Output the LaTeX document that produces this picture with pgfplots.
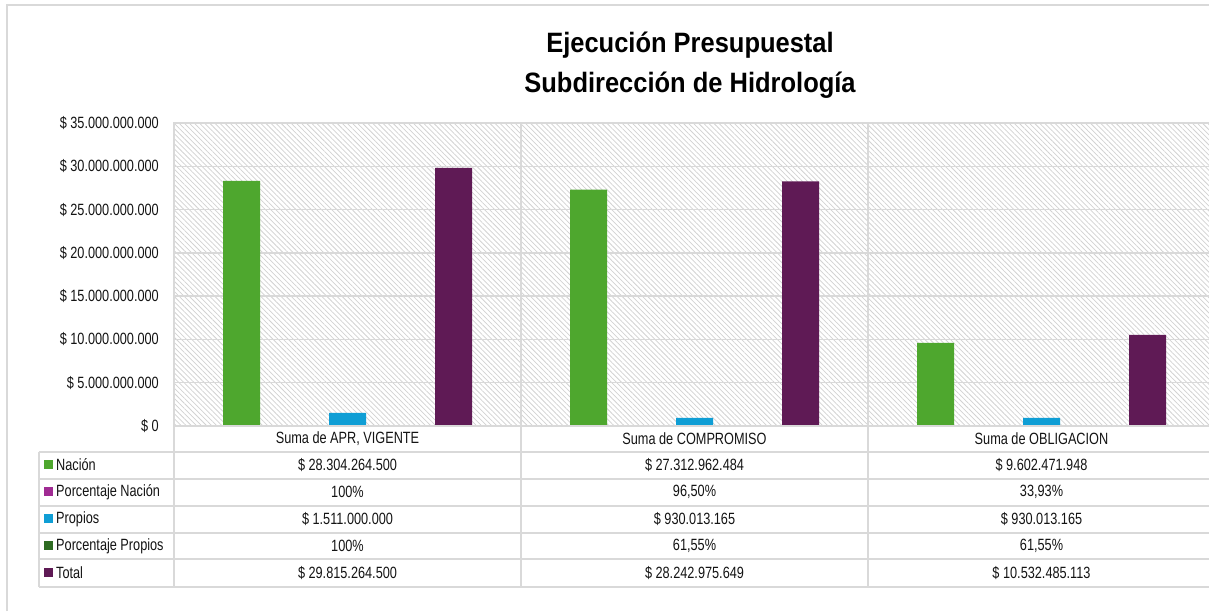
\documentclass[border=0pt]{standalone}
\usepackage{pgfplots}
\pgfplotsset{compat=1.18}
\usetikzlibrary{patterns.meta}
\usepackage{fontspec}
\setmainfont{Liberation Sans}[FakeStretch=0.78]
\newfontfamily\titlefont{Liberation Sans}[FakeStretch=0.91]
\definecolor{gridgray}{RGB}{217,217,217}
\definecolor{hatchgray}{RGB}{210,210,210}
\definecolor{cNacion}{RGB}{78,167,46}
\definecolor{cPNacion}{RGB}{160,43,147}
\definecolor{cPropios}{RGB}{15,158,213}
\definecolor{cPPropios}{RGB}{46,107,34}
\definecolor{cTotal}{RGB}{95,26,85}
\definecolor{txt}{RGB}{20,20,20}
\newcommand\tf{\fontsize{16.3}{19}\selectfont}
\begin{document}
\begin{tikzpicture}
\useasboundingbox (0pt,0pt) rectangle (1209pt,611pt);
\fill[white] (0pt,0pt) rectangle (1209pt,611pt);
\clip (0pt,0pt) rectangle (1209pt,611pt);
% outer chart border
\draw[gridgray, line width=1.3pt] (7pt,0pt) -- (7pt,606pt) -- (1215pt,606pt);
% title
\node[anchor=base, font=\titlefont\bfseries\fontsize{28}{32}\selectfont, text=black] at (690pt,558pt) {Ejecución Presupuestal};
\node[anchor=base, font=\titlefont\bfseries\fontsize{28}{32}\selectfont, text=black] at (690pt,518pt) {Subdirección de Hidrología};
\begin{axis}[
  at={(174pt,185pt)}, anchor=south west,
  width=1041pt, height=303pt, scale only axis,
  ybar, bar width=37pt,
  xmin=-0.5, xmax=2.5, ymin=0, ymax=35e9,
  axis background/.style={pattern={Lines[angle=-45,distance=3.6pt,line width=0.75pt]}, pattern color=hatchgray},
  axis line style={draw=gridgray, line width=1.3pt},
  xtick={0,1,2},
  xticklabels={{Suma de APR, VIGENTE},{Suma de COMPROMISO},{Suma de OBLIGACION}},
  xticklabel style={anchor=center, inner sep=0pt, yshift=-13pt, text=txt, font=\tf},
  minor xtick={0.5,1.5}, xminorgrids=true,
  minor grid style={draw=gridgray, line width=1.3pt},
  ytick={0,5e9,1e10,1.5e10,2e10,2.5e10,3e10,3.5e10},
  yticklabels={{\$ 0},{\$ 5.000.000.000},{\$ 10.000.000.000},{\$ 15.000.000.000},{\$ 20.000.000.000},{\$ 25.000.000.000},{\$ 30.000.000.000},{\$ 35.000.000.000}},
  scaled y ticks=false,
  yticklabel style={anchor=east, inner sep=0pt, xshift=-15pt, text=txt, font=\tf},
  ymajorgrids=true,
  major grid style={draw=gridgray, line width=1.3pt},
  major tick length=0pt, minor tick length=0pt,
]
\addplot[fill=cNacion, draw=none, bar shift=-106pt] coordinates {(0,28304264500) (1,27312962484) (2,9602471948)};
\addplot[fill=cPNacion, draw=none, bar shift=-53pt] coordinates {(0,1) (1,0.965) (2,0.3393)};
\addplot[fill=cPropios, draw=none, bar shift=0pt] coordinates {(0,1511000000) (1,930013165) (2,930013165)};
\addplot[fill=cPPropios, draw=none, bar shift=53pt] coordinates {(0,1) (1,0.6155) (2,0.6155)};
\addplot[fill=cTotal, draw=none, bar shift=106pt] coordinates {(0,29815264500) (1,28242975649) (2,10532485113)};
\end{axis}
% data table lines
\begin{scope}[gridgray, line width=1.3pt]
\draw (174pt,185pt) -- (1215pt,185pt);
\foreach \y in {159,132,105,78,52,24} \draw (39pt,\y pt) -- (1215pt,\y pt);
\draw (39pt,159pt) -- (39pt,24pt);
\draw (174pt,185pt) -- (174pt,24pt);
\draw (521pt,185pt) -- (521pt,24pt);
\draw (868pt,185pt) -- (868pt,24pt);
\end{scope}
% legend column
\begin{scope}[every node/.style={anchor=west, inner sep=0pt, text=txt, font=\tf}]
\fill[cNacion] (44pt,142pt) rectangle (53pt,151pt);
\node at (56pt,146pt) {Nación};
\fill[cPNacion] (44pt,115pt) rectangle (53pt,124pt);
\node at (56pt,119pt) {Porcentaje Nación};
\fill[cPropios] (44pt,88pt) rectangle (53pt,97pt);
\node at (56pt,92pt) {Propios};
\fill[cPPropios] (44pt,61pt) rectangle (53pt,70pt);
\node at (56pt,65pt) {Porcentaje Propios};
\fill[cTotal] (44pt,34pt) rectangle (53pt,43pt);
\node at (56pt,38pt) {Total};
\end{scope}
% values
\begin{scope}[every node/.style={anchor=center, inner sep=0pt, text=txt, font=\tf}]
\node at (347.5pt,146pt) {\$ 28.304.264.500};
\node at (694.5pt,146pt) {\$ 27.312.962.484};
\node at (1041.5pt,146pt) {\$ 9.602.471.948};
\node at (347.5pt,119pt) {100\%};
\node at (694.5pt,119pt) {96,50\%};
\node at (1041.5pt,119pt) {33,93\%};
\node at (347.5pt,92pt) {\$ 1.511.000.000};
\node at (694.5pt,92pt) {\$ 930.013.165};
\node at (1041.5pt,92pt) {\$ 930.013.165};
\node at (347.5pt,65pt) {100\%};
\node at (694.5pt,65pt) {61,55\%};
\node at (1041.5pt,65pt) {61,55\%};
\node at (347.5pt,38pt) {\$ 29.815.264.500};
\node at (694.5pt,38pt) {\$ 28.242.975.649};
\node at (1041.5pt,38pt) {\$ 10.532.485.113};
\end{scope}
\end{tikzpicture}
\end{document}
